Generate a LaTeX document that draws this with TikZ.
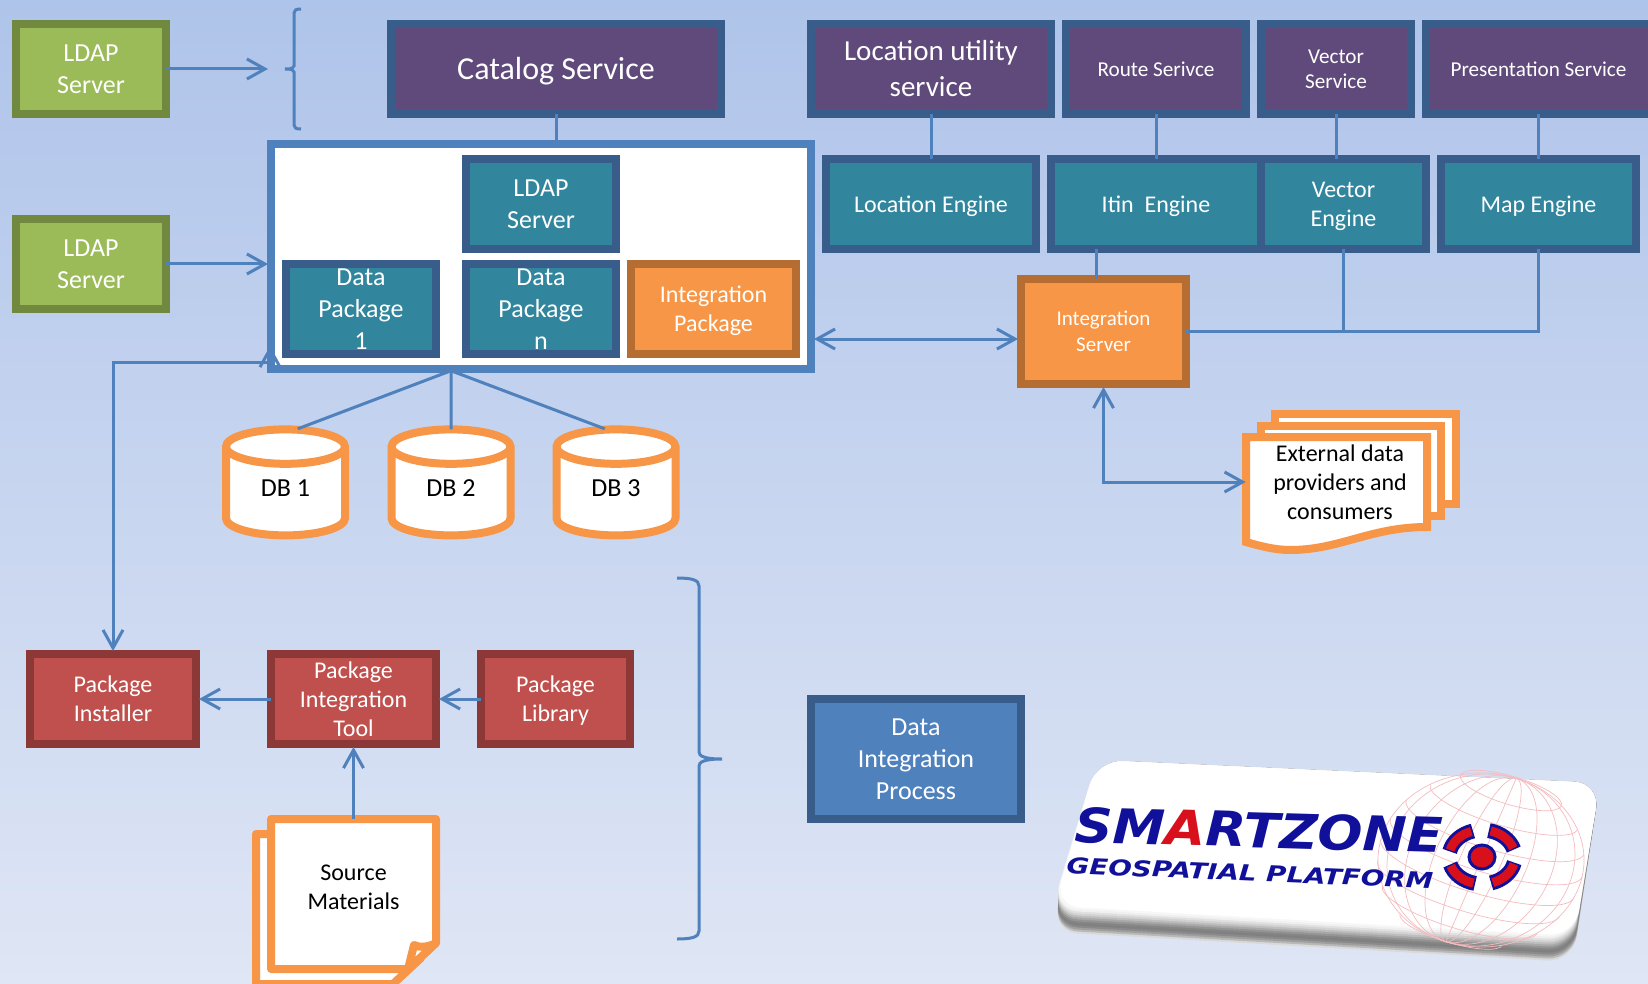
\documentclass[tikz,border=0pt]{standalone}
\usepackage{fontspec}
\setmainfont{Carlito}
\newfontfamily\logofont{DejaVu Sans}
\usepackage{tikz}
\usetikzlibrary{shapes.geometric,
                calc, %for the logo corners
                arrows.meta, %for open arrow heads
                positioning}
\definecolor{bgtop}{HTML}{AFC4EA}
\definecolor{bgbottom}{HTML}{DFE6F5}
\definecolor{linkblue}{HTML}{4F81BD}
\definecolor{edgeblue}{HTML}{385D8A}
\definecolor{svcpurple}{HTML}{604A7B}
\definecolor{engteal}{HTML}{31859C}
\definecolor{ldapgreen}{HTML}{9BBB59}
\definecolor{ldapedge}{HTML}{71893F}
\definecolor{pkgorange}{HTML}{F79646}
\definecolor{pkgedge}{HTML}{B66D31}
\definecolor{toolred}{HTML}{C0504D}
\definecolor{tooledge}{HTML}{8C3836}
\definecolor{logonavy}{HTML}{10109A}
\definecolor{logored}{HTML}{D8101C}
\newcommand{\dbtext}[1]{\raisebox{-1.9pt}[0pt][0pt]{#1}}

\begin{document}
\begin{tikzpicture}[
                    x=0.5pt, y=-0.5pt,
                    boxsize/.style 2 args={minimum width=#1*0.5pt, minimum height=#2*0.5pt},
                    lineroom/.style={execute at begin node={\rule{0pt}{\dimexpr0.95em+#1\baselineskip-\baselineskip\relax}},
                                     execute at end node={\rule[-0.27em]{0pt}{0.1em}}},
                    basebox/.style={draw, line width=4pt, inner sep=0, align=center, text=white, lineroom=1},
                    txtS/.style={font=\fontsize{10.6}{12.5}\selectfont},
                    txtM/.style={font=\fontsize{12}{14.5}\selectfont},
                    txtL/.style={font=\fontsize{13}{16}\selectfont},
                    txtXL/.style={font=\fontsize{14.5}{18}\selectfont},
                    ldapbox/.style={basebox, txtL, lineroom=2, fill=ldapgreen, draw=ldapedge, boxsize={150}{90}},
                    svcbox/.style={basebox, fill=svcpurple, draw=edgeblue},
                    engbox/.style={basebox, fill=engteal, draw=edgeblue},
                    orgbox/.style={basebox, lineroom=2, fill=pkgorange, draw=pkgedge},
                    redbox/.style={basebox, txtM, lineroom=2, fill=toolred, draw=tooledge, boxsize={165}{90}},
                    dbcyl/.style={cylinder, shape border rotate=90, aspect=0.7, draw=pkgorange, fill=white,
                                  line width=4pt, inner sep=0, txtL, boxsize={119}{106}},
                    docsheet/.style={draw=pkgorange, fill=white, line width=4pt},
                    doctext/.style={align=center, inner sep=0, txtM},
                    link/.style={draw=linkblue, line width=1.5pt, shorten <=-2pt, shorten >=-2pt},
                    arrow/.style={link, -{Straight Barb[length=9pt,width=10pt]}, shorten >=-0.5pt},
                    darrow/.style={link, {Straight Barb[length=9pt,width=10pt]}-{Straight Barb[length=9pt,width=10pt]},
                                   shorten <=-0.5pt, shorten >=-0.5pt},
                    bracket/.style={draw=linkblue, line width=1.5pt},
                    globeline/.style={draw=logored!28, line width=0.35pt}
                    ]
    \useasboundingbox (0,0) rectangle (1648,984);
    \shade[top color=bgtop, bottom color=bgbottom] (0,0) rectangle (1648,984);

    % LDAP servers
    \node[ldapbox] at (91,69)  (LDAP1){LDAP\\Server};
    \node[ldapbox] at (91,264) (LDAP2){LDAP\\Server};

    % services
    \node[svcbox, font=\fontsize{16}{18}\selectfont, boxsize={330}{90}] at (556,69) (Catalog){Catalog Service};
    \node[svcbox, txtXL, lineroom=2, boxsize={240}{90}] at (931,69)    (LocSvc){Location utility\\service};
    \node[svcbox, txtS,  boxsize={180}{90}] at (1156,69)   (RouteSvc){Route Serivce};
    \node[svcbox, txtS, lineroom=2, boxsize={150}{90}] at (1336,69)   (VecSvc){Vector\\Service};
    \node[svcbox, txtS,  boxsize={225}{90}] at (1538.5,69) (PresSvc){Presentation Service};

    % engines
    \node[engbox, txtM, boxsize={210}{90}] at (931,204)    (LocEng){Location Engine};
    \node[engbox, txtM, boxsize={210}{90}] at (1156,204)   (ItinEng){Itin\ \ Engine};
    \node[engbox, txtM, lineroom=2, boxsize={165}{90}] at (1343.5,204) (VecEng){Vector\\Engine};
    \node[engbox, txtM, boxsize={195}{90}] at (1538.5,204) (MapEng){Map Engine};

    % main container and its packages
    \node[draw=linkblue, fill=white, line width=4pt, boxsize={540}{225}] at (541,256.5) (Cont){};
    \node[engbox, txtL, lineroom=2, boxsize={150}{90}] at (541,204) (InLDAP){LDAP\\Server};
    \node[engbox, txtL, lineroom=3, inner ysep=-3pt, boxsize={150}{90}] at (361,309) (Pkg1){Data\\Package\\1};
    \node[engbox, txtL, lineroom=3, inner ysep=-3pt, boxsize={150}{90}] at (541,309) (PkgN){Data\\Package\\n};
    \node[orgbox, txtM, boxsize={165}{90}] at (713.5,309) (IntPkg){Integration\\Package};

    \node[orgbox, font=\fontsize{10.5}{13}\selectfont, boxsize={165}{105}] at (1103.5,331.5) (IntSrv){Integration\\Server};

    % databases
    \node[dbcyl] at (285.5,493) (DB1){\dbtext{DB 1}};
    \node[dbcyl] at (451,493)   (DB2){\dbtext{DB 2}};
    \node[dbcyl] at (616,493)   (DB3){\dbtext{DB 3}};

    % external providers, three sheets
    \draw[docsheet] (1275,414) rectangle (1456,504);
    \draw[docsheet] (1261,426) rectangle (1441,516);
    \draw[docsheet] (1246,437) -- (1427,437) -- (1427,527)
        .. controls (1370,527) and (1340,550) .. (1290,550)
        .. controls (1275,550) and (1260,546) .. (1246,542) -- cycle;
    \node[doctext, lineroom=3, minimum width=95pt] at (1340,482) (ExtDoc){External data\\providers and\\consumers};

    % source materials, two sheets with turned corner
    \draw[docsheet, line join=round] (256,834) -- (421,834) -- (421,958) -- (393,984) -- (256,984) -- cycle;
    \draw[docsheet, line join=round] (271,819) -- (436,819) -- (436,943) -- (408,969) -- (271,969) -- cycle;
    \draw[docsheet, line join=round] (414,945) .. controls (420,948) and (428,947) .. (436,943) -- (408,969) -- cycle;
    \node[doctext, lineroom=2] at (353.5,887) (SrcDoc){Source\\Materials};
    \coordinate (SrcTop) at (353.5,819);

    % package tools
    \node[redbox, boxsize={166}{90}] at (113,699)   (Inst){Package\\Installer};
    \node[redbox, lineroom=3]        at (353.5,699) (Tool){Package\\Integration\\Tool};
    \node[redbox, boxsize={149}{90}] at (555.5,699) (Lib){Package\\Library};

    \node[basebox, txtL, lineroom=3, fill=linkblue, draw=edgeblue, boxsize={210}{120}] at (916,759) (DIP){Data\\Integration\\Process};

    % service to engine links
    \draw[link] (Catalog.south) -- (Catalog.south |- Cont.north);
    \draw[link] (LocSvc.south)   -- (LocEng.north);
    \draw[link] (RouteSvc.south) -- (ItinEng.north);
    \draw[link] (VecSvc.south)   -- (VecSvc.south |- VecEng.north);
    \draw[link] (PresSvc.south)  -- (MapEng.north);

    % engine to integration server links
    \draw[link] ([xshift=-30pt]ItinEng.south) -- ([xshift=-3.75pt]IntSrv.north);
    \draw[link] (VecEng.south) |- (IntSrv.east);
    \draw[link] (MapEng.south) |- (IntSrv.east);

    % arrows
    \coordinate (BrkTip) at (267,69);
    \draw[arrow] (LDAP1.east) -- (BrkTip);
    \draw[arrow] (LDAP2.east) -- (LDAP2.east -| Cont.west);
    \coordinate (ContR) at (815,339);
    \draw[darrow] (ContR) -- (ContR -| IntSrv.west);
    \draw[darrow] (IntSrv.south) |- (ExtDoc.west);
    \coordinate (ContL) at (270,347);
    \draw[darrow] (ContL) -- ++(0,15) -| (Inst.north);
    \draw[arrow] (Tool.west) -- (Inst.east);
    \draw[arrow] (Lib.west) -- (Tool.east);
    \draw[arrow, shorten <=0pt] (SrcTop) -- (Tool.south);

    % container to databases
    \coordinate (ContBus) at (451,373);
    \draw[link] ([xshift=-3pt]ContBus) -- ([xshift=8pt,yshift=-1pt]DB1.north);
    \draw[link] (ContBus) -- (DB2.north);
    \draw[link] ([xshift=3pt]ContBus) -- ([xshift=-7.5pt,yshift=-1pt]DB3.north);

    % braces
    \draw[bracket] (301,9) .. controls (296,9) and (294,10) .. (294,13) -- (294,66)
        .. controls (294,68) and (292,69) .. (285,69) .. controls (292,69) and (294,70) .. (294,72)
        -- (294,125) .. controls (294,128) and (296,129) .. (301,129);
    \draw[bracket] (677,578) .. controls (692,578) and (699,580) .. (699,586) -- (699,752)
        .. controls (699,756) and (704,759) .. (722,759) .. controls (704,759) and (699,762) .. (699,766)
        -- (699,931) .. controls (699,937) and (692,939) .. (677,939);

    % logo plate, darker towards the lower edge
    \foreach \b/\c in {0/15,2/28,4/38,6/46,8/50,10/48,12/42,14/34,16/26,18/18,20/12,22/6,24/3}
        \fill[black!\c!white, rounded corners=13pt]
            (1097,760) -- (1600,783) -- (1573,962-\b) -- (1052,932-\b) -- cycle;
    \fill[white, rounded corners=13pt] (1097,760) -- (1600,783) -- (1575,936) -- (1054,906) -- cycle;

    % globe behind the logo
    \begin{scope}[shift={(1481,860)}, xscale=1.03, yscale=.87, rotate=-20]
        \draw[globeline] (0,0) circle (100);
        \foreach \k in {0.2,0.45,0.7,0.9}
            \draw[globeline] (0,0) ellipse [x radius=100*\k, y radius=100];
        \draw[globeline] (0,-100) -- (0,100);
        \draw[globeline] (0,-85) ellipse [x radius=52, y radius=16];
        \foreach \h in {-0.65,-0.4,-0.15,0.1,0.35,0.6,0.85}{
            \pgfmathsetmacro{\rad}{100*sqrt(1-\h*\h)}
            \draw[globeline] (-\rad,100*\h) arc[start angle=180, delta angle=-180, x radius=\rad, y radius=0.28*\rad];
        }
    \end{scope}

    % logo text
    \node[text=logonavy, inner sep=0, rotate=-1.7, transform shape, xscale=1.1,
          font=\logofont\bfseries\itshape\fontsize{24}{24}\selectfont] at (1259,830) (LogoName)
          {SM\textcolor{logored}{A}RTZONE};
    \node[text=logonavy, inner sep=0, rotate=-2.4, transform shape, xscale=1.26,
          font=\logofont\bfseries\itshape\fontsize{11}{11}\selectfont] at (1250,873) (LogoSub)
          {GEOSPATIAL PLATFORM};

    % target mark
    \coordinate (Aim) at (1482,857);
    \foreach \a in {12,102,192,282}{
        \draw[logonavy, line width=7.5pt] ($(Aim)+(\a:33 and 27)$) arc[start angle=\a, delta angle=62, x radius=33, y radius=27];
        \draw[logored, line width=4.5pt] ($(Aim)+(\a+3:33 and 27)$) arc[start angle=\a+3, delta angle=56, x radius=33, y radius=27];
    }
    \filldraw[fill=logored, draw=logonavy, line width=1.5pt] (Aim) ellipse [x radius=13, y radius=12];
\end{tikzpicture}
\end{document}
